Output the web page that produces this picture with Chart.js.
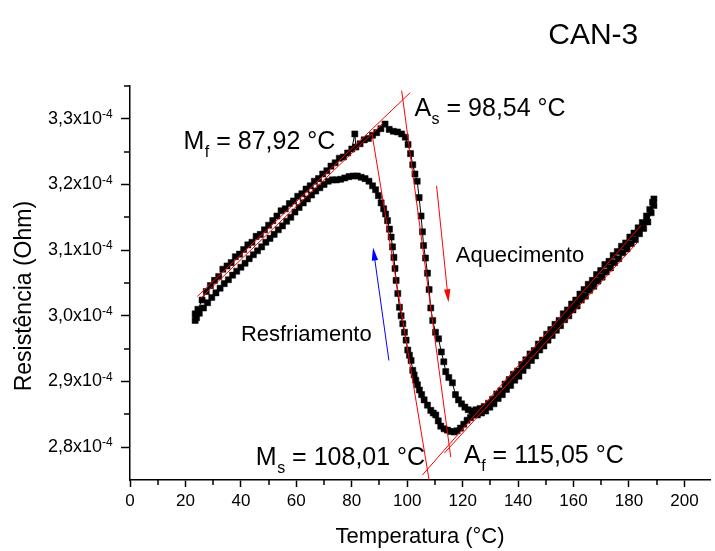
<!DOCTYPE html>
<html><head><meta charset="utf-8">
<script src="https://cdn.jsdelivr.net/npm/chart.js@4/dist/chart.umd.min.js"></script>
<style>html,body{margin:0;padding:0;background:#fff;overflow:hidden}#wrap{position:relative;width:715px;height:551px}</style>
</head><body><div id="wrap"><canvas id="c"></canvas></div>
<script>
// Resistance values in units of 1e-4 Ohm
const heatT = [23.5,24.5,26.0,27.5,29.0,30.5,32.0,33.5,35.0,36.5,38.0,39.5,41.0,42.5,44.0,45.5,47.0,48.5,50.0,51.5,53.0,54.5,56.0,57.5,59.0,60.5,62.0,63.5,65.0,66.5,68.0,69.5,71.0,72.5,74.0,75.5,77.0,78.5,80.0,81.1,81.5,83.0,84.5,86.0,87.5,89.0,90.5,92.0,93.5,95.0,96.5,98.0,99.3,100.3,101.2,102.0,102.8,103.6,104.3,105.0,105.5,105.9,106.6,107.3,107.9,108.5,109.2,110.2,111.3,112.3,113.2,113.9,115.0,116.3,117.4,118.5,119.6,120.8,122.0,123.3,124.8,126.3,127.8,129.3,130.8,132.3,133.8,135.3,136.8,138.3,139.8,141.3,142.8,144.3,145.8,147.3,148.8,150.3,151.8,153.3,154.8,156.3,157.8,159.3,160.8,162.3,163.8,165.3,166.8,168.3,169.8,171.3,172.8,174.3,175.8,177.3,178.8,180.3,181.8,183.3,184.8,186.3,187.5,188.5,189.0];
const heatR = [3.003,3.010,3.024,3.037,3.046,3.054,3.060,3.071,3.076,3.081,3.090,3.094,3.101,3.108,3.112,3.121,3.124,3.131,3.138,3.145,3.152,3.160,3.163,3.171,3.175,3.182,3.186,3.193,3.198,3.205,3.209,3.216,3.221,3.228,3.233,3.240,3.242,3.248,3.254,3.277,3.257,3.262,3.268,3.270,3.275,3.279,3.285,3.292,3.284,3.281,3.280,3.277,3.272,3.261,3.247,3.230,3.216,3.205,3.180,3.152,3.128,3.107,3.088,3.065,3.040,3.012,2.993,2.975,2.965,2.945,2.930,2.915,2.906,2.898,2.880,2.872,2.866,2.861,2.857,2.855,2.857,2.859,2.862,2.867,2.873,2.881,2.886,2.896,2.903,2.911,2.916,2.926,2.933,2.942,2.947,2.957,2.963,2.972,2.979,2.987,2.993,3.003,3.009,3.018,3.024,3.033,3.040,3.048,3.054,3.063,3.069,3.078,3.083,3.092,3.098,3.106,3.111,3.120,3.126,3.134,3.142,3.152,3.162,3.173,3.178];
const coolT = [189.0,188.0,186.8,185.3,183.8,182.3,180.8,179.3,177.8,176.3,174.8,173.3,171.8,170.3,168.8,167.3,165.8,164.3,162.8,161.3,159.8,158.3,156.8,155.3,153.8,152.3,150.8,149.3,147.8,146.3,144.8,143.3,141.8,140.3,138.8,137.3,135.8,134.3,132.8,131.3,129.8,128.3,126.8,125.3,124.0,122.8,121.6,120.4,119.2,118.0,116.9,115.7,114.5,113.3,112.1,111.2,110.3,109.4,108.5,107.3,106.1,105.2,104.4,103.7,103.1,102.5,102.0,101.4,100.8,100.2,99.6,99.0,98.4,97.8,97.2,96.6,96.0,95.6,95.2,94.7,94.2,93.6,92.9,92.2,91.5,90.6,89.6,88.6,87.5,86.2,84.8,83.4,82.0,80.5,79.0,77.5,76.0,74.5,73.0,71.5,70.0,68.5,67.0,65.5,64.0,62.5,61.0,59.5,58.0,56.5,55.0,53.5,52.0,50.5,49.0,47.5,46.0,44.5,43.0,41.5,40.0,38.5,37.0,35.5,34.0,32.5,31.0,29.5,28.0,26.5,25.0,24.0,23.5];
const coolR = [3.168,3.157,3.143,3.133,3.125,3.116,3.110,3.102,3.096,3.087,3.081,3.073,3.067,3.059,3.053,3.045,3.039,3.030,3.024,3.015,3.009,3.000,2.994,2.985,2.978,2.970,2.963,2.954,2.948,2.939,2.932,2.924,2.917,2.908,2.902,2.894,2.888,2.880,2.874,2.866,2.861,2.855,2.852,2.849,2.849,2.845,2.841,2.835,2.829,2.825,2.823,2.824,2.826,2.828,2.832,2.840,2.849,2.852,2.856,2.864,2.872,2.880,2.887,2.895,2.902,2.910,2.917,2.932,2.940,2.948,2.963,2.975,2.988,3.000,3.013,3.034,3.054,3.072,3.089,3.105,3.120,3.132,3.145,3.155,3.163,3.172,3.183,3.192,3.198,3.205,3.209,3.211,3.213,3.213,3.212,3.210,3.208,3.207,3.207,3.205,3.200,3.195,3.190,3.184,3.178,3.172,3.165,3.158,3.150,3.144,3.137,3.131,3.124,3.118,3.112,3.105,3.099,3.093,3.087,3.080,3.074,3.068,3.062,3.055,3.049,3.042,3.035,3.028,3.020,3.012,3.004,2.997,2.993];

// Tangent (fit) lines: [T start, T end], [R start, R end]
const fitLowUpperT = [24.3, 101.1], fitLowUpperR = [3.0296, 3.340];
const fitLowLowerT = [25.5, 91.2],  fitLowLowerR = [3.027, 3.293];
const fitHeatDropT = [98.0, 115.7], fitHeatDropR = [3.343, 2.785];
const fitCoolDropT = [87.3, 107.9], fitCoolDropR = [3.277, 2.750];
const fitHighUpperT = [105.5, 184.3], fitHighUpperR = [2.7576, 3.1375];
const fitHighLowerT = [113.4, 183.1], fitHighLowerR = [2.791, 3.112];

// Arrows: [T tail, T head], [R tail, R head]
const arrowHeatT = [110.6, 114.9], arrowHeatR = [3.198, 3.0205];
const arrowCoolT = [93.4, 87.7],   arrowCoolR = [2.932, 3.104];

const xTicks = [0,20,40,60,80,100,120,140,160,180,200];
const xMinor = [10,30,50,70,90,110,130,150,170,190];
const yTicks = [2.8,2.9,3.0,3.1,3.2,3.3];
const yMinor = [2.85,2.95,3.05,3.15,3.25,3.35];
const yExponent = '-4';

const FONT = "'Liberation Sans', Arial, Helvetica, sans-serif";
const Y_TITLE = 'Resistência (Ohm)';

const labels = [
  {t:167.1, r:3.414, main:'CAN-3', size:30, align:'center'},
  {t:19.3, r:3.254, main:'M', sub:'f', rest:' = 87,92 °C', size:25},
  {t:102.6, r:3.3047, main:'A', sub:'s', rest:' = 98,54 °C', size:25},
  {t:117.5, r:3.0818, main:'Aquecimento', size:22},
  {t:40.0, r:2.9612, main:'Resfriamento', size:22},
  {t:45.4, r:2.7728, main:'M', sub:'s', rest:' = 108,01 °C', size:25},
  {t:120.5, r:2.7758, main:'A', sub:'f', rest:' = 115,05 °C', size:25}
];

function pts(T, R){ return T.map((t,i)=>({x:t, y:R[i]})); }
function fitDs(T, R){ return {type:'line', data:pts(T,R), borderColor:'#ff0000', borderWidth:1, pointRadius:0, order:0, tension:0}; }

function drawArrow(ctx, x, y, T, R, color){
  const x0=x.getPixelForValue(T[0]), y0=y.getPixelForValue(R[0]);
  const x1=x.getPixelForValue(T[1]), y1=y.getPixelForValue(R[1]);
  const ang=Math.atan2(y1-y0, x1-x0), L=13, W=3.2;
  ctx.strokeStyle=color; ctx.fillStyle=color; ctx.lineWidth=1;
  ctx.beginPath(); ctx.moveTo(x0,y0); ctx.lineTo(x1-Math.cos(ang)*L*0.8, y1-Math.sin(ang)*L*0.8); ctx.stroke();
  ctx.beginPath();
  ctx.moveTo(x1,y1);
  ctx.lineTo(x1-Math.cos(ang)*L - Math.sin(ang)*W, y1-Math.sin(ang)*L + Math.cos(ang)*W);
  ctx.lineTo(x1-Math.cos(ang)*L + Math.sin(ang)*W, y1-Math.sin(ang)*L - Math.cos(ang)*W);
  ctx.closePath(); ctx.fill();
}

const annot = {
  id:'annot',
  afterDatasetsDraw(chart){
    const ctx=chart.ctx, x=chart.scales.x, y=chart.scales.y;
    ctx.save();
    drawArrow(ctx,x,y,arrowHeatT,arrowHeatR,'#ff0000');
    drawArrow(ctx,x,y,arrowCoolT,arrowCoolR,'#0000ff');
    ctx.fillStyle='#000'; ctx.textBaseline='alphabetic';
    labels.forEach(l=>{
      let px=x.getPixelForValue(l.t); const py=y.getPixelForValue(l.r);
      ctx.font=l.size+'px '+FONT; ctx.textAlign=l.align||'left';
      ctx.fillText(l.main, px, py);
      if(l.sub){
        px+=ctx.measureText(l.main).width;
        ctx.textAlign='left';
        ctx.font='16px '+FONT; ctx.fillText(l.sub, px+0.5, py+8);
        px+=ctx.measureText(l.sub).width+0.5;
        ctx.font=l.size+'px '+FONT; ctx.fillText(l.rest, px, py);
      }
    });
    ctx.restore();
  },
  afterDraw(chart){
    const ctx=chart.ctx, x=chart.scales.x, y=chart.scales.y, a=chart.chartArea;
    ctx.save(); ctx.strokeStyle='#000'; ctx.lineWidth=1.5;
    xMinor.forEach(v=>{const p=Math.round(x.getPixelForValue(v)); ctx.beginPath(); ctx.moveTo(p,a.bottom); ctx.lineTo(p,a.bottom+5); ctx.stroke();});
    yMinor.forEach(v=>{const p=Math.round(y.getPixelForValue(v)); ctx.beginPath(); ctx.moveTo(a.left,p); ctx.lineTo(a.left-6,p); ctx.stroke();});
    // superscript exponent of the y tick labels
    ctx.fillStyle='#000'; ctx.font='12px '+FONT; ctx.textAlign='left'; ctx.textBaseline='alphabetic';
    yTicks.forEach(v=>{const p=y.getPixelForValue(v); ctx.fillText(yExponent, a.left-28, p-1);});
    // y-axis title
    ctx.translate(25, y.getPixelForValue(3.03));
    ctx.rotate(-Math.PI/2);
    ctx.font='23px '+FONT; ctx.textAlign='center'; ctx.textBaseline='middle';
    ctx.fillText(Y_TITLE, 0, 0);
    ctx.restore();
  }
};

new Chart(document.getElementById('c'), {
  type:'line',
  data:{datasets:[
    fitDs(fitLowUpperT, fitLowUpperR),
    fitDs(fitLowLowerT, fitLowLowerR),
    fitDs(fitHeatDropT, fitHeatDropR),
    fitDs(fitCoolDropT, fitCoolDropR),
    fitDs(fitHighUpperT, fitHighUpperR),
    fitDs(fitHighLowerT, fitHighLowerR),
    {label:'Aquecimento', data:pts(heatT,heatR), borderColor:'#000', borderWidth:1, pointStyle:'rect', pointRadius:4.3, pointBackgroundColor:'#000', pointBorderColor:'#000', pointBorderWidth:0.5, order:1, tension:0},
    {label:'Resfriamento', data:pts(coolT,coolR), borderColor:'#000', borderWidth:1, pointStyle:'rect', pointRadius:4.3, pointBackgroundColor:'#000', pointBorderColor:'#000', pointBorderWidth:0.5, order:1, tension:0}
  ]},
  options:{
    responsive:true, maintainAspectRatio:false, animation:false,
    layout:{padding:{top:86, left:0, right:0, bottom:0}},
    plugins:{legend:{display:false}, tooltip:{enabled:false}, title:{display:false}},
    scales:{
      x:{type:'linear', min:0, max:209.3,
        afterBuildTicks:s=>{s.ticks=xTicks.map(v=>({value:v}));},
        afterFit:s=>{s.height=71;},
        ticks:{autoSkip:false, maxRotation:0, padding:4, color:'#000', font:{family:FONT, size:17}, callback:v=>String(v)},
        grid:{drawOnChartArea:false, drawTicks:true, tickLength:7, color:'#000', tickWidth:1.5},
        border:{display:true, color:'#000', width:1.5},
        title:{display:true, text:'Temperatura (°C)', color:'#000', font:{family:FONT, size:22}, padding:{top:0,bottom:1}}
      },
      y:{type:'linear', min:2.75, max:3.35,
        afterBuildTicks:s=>{s.ticks=yTicks.map(v=>({value:v}));},
        afterFit:s=>{s.width=130;},
        ticks:{autoSkip:false, padding:19, color:'#000', font:{family:FONT, size:18}, callback:v=>v.toFixed(1).replace('.',',')+'x10'},
        grid:{drawOnChartArea:false, drawTicks:true, tickLength:9, color:'#000', tickWidth:1.5},
        border:{display:true, color:'#000', width:1.5},
        title:{display:false, text:Y_TITLE}
      }
    }
  },
  plugins:[annot]
});
</script></body></html>
